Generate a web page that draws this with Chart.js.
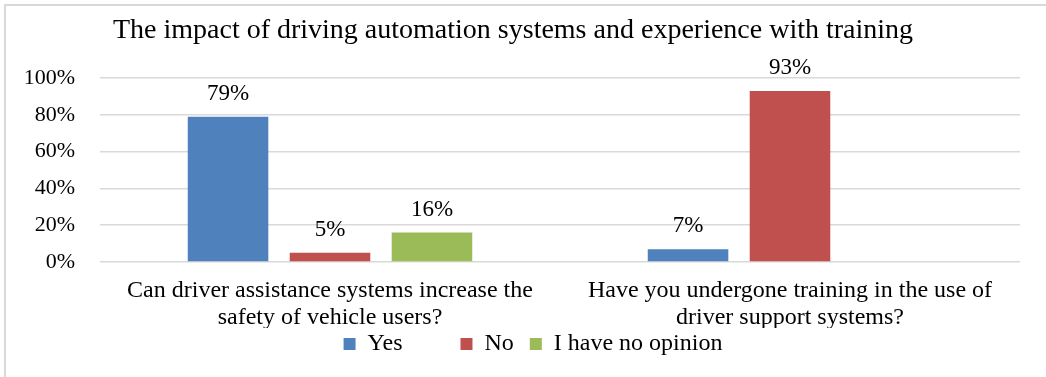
<!DOCTYPE html>
<html>
<head>
<meta charset="utf-8">
<script src="https://cdn.jsdelivr.net/npm/chart.js@4.4.0/dist/chart.umd.min.js"></script>
<style>
html,body{margin:0;padding:0;background:#fff;}
#wrap{position:relative;width:1046px;height:377px;}
</style>
</head>
<body>
<div id="wrap"><canvas id="c" width="1046" height="377"></canvas></div>
<script>
const categories = [
  ["Can driver assistance systems increase the", "safety of vehicle users?"],
  ["Have you undergone training in the use of", "driver support systems?"]
];
const seriesNames = ["Yes", "No", "I have no opinion"];
const yesValues = [79, 7];
const noValues = [5, 93];
const noOpinionValues = [16, null];
const yTicks = [0, 20, 40, 60, 80, 100];
const colors = ["#4F81BD", "#C0504D", "#9BBB59"];
// trailing space counts to mimic the spacing of the reference legend columns
const legendTrail = [9, 2, 9];

const FONT = "'Liberation Serif', 'Times New Roman', serif";

const borderPlugin = {
  id: 'outerBorder',
  beforeDraw(chart) {
    const ctx = chart.ctx;
    ctx.save();
    ctx.strokeStyle = '#d9d9d9';
    ctx.lineWidth = 2;
    ctx.strokeRect(5, 5, 1200, 500);
    ctx.restore();
  }
};

const labelPlugin = {
  id: 'valueLabels',
  afterDatasetsDraw(chart) {
    const ctx = chart.ctx;
    ctx.save();
    ctx.font = "23px " + FONT;
    ctx.fillStyle = '#000';
    ctx.textAlign = 'center';
    ctx.textBaseline = 'middle';
    chart.data.datasets.forEach((ds, di) => {
      const meta = chart.getDatasetMeta(di);
      meta.data.forEach((bar, i) => {
        const v = ds.data[i];
        if (v === null || v === undefined) return;
        ctx.fillText(v + '%', bar.x, bar.y - 23);
      });
    });
    ctx.restore();
  }
};

new Chart(document.getElementById('c'), {
  type: 'bar',
  data: {
    labels: categories,
    datasets: [
      { label: seriesNames[0], data: yesValues, backgroundColor: colors[0] },
      { label: seriesNames[1], data: noValues, backgroundColor: colors[1] },
      { label: seriesNames[2], data: noOpinionValues, backgroundColor: colors[2] }
    ]
  },
  options: {
    responsive: false,
    animation: false,
    devicePixelRatio: 1,
    layout: { padding: { left: 6, right: 26, top: 10, bottom: 11 } },
    datasets: { bar: { categoryPercentage: 0.665, barPercentage: 0.79 } },
    plugins: {
      title: {
        display: true,
        text: "The impact of driving automation systems and experience with training",
        color: '#000',
        font: { family: FONT, size: 28, weight: 'normal' },
        padding: { top: 4, bottom: 30.5 }
      },
      legend: {
        position: 'bottom',
        fullSize: false,
        labels: {
          color: '#000',
          font: { family: FONT, size: 24 },
          boxWidth: 12, boxHeight: 12,
          padding: 4,
          generateLabels(chart) {
            const items = Chart.defaults.plugins.legend.labels.generateLabels(chart);
            items.forEach((it, i) => { it.text = it.text + ' '.repeat(legendTrail[i]); it.lineWidth = 0; });
            return items;
          }
        }
      },
      tooltip: { enabled: false }
    },
    scales: {
      x: {
        afterFit(scale) { scale.height = 66; },
        grid: { display: false, drawTicks: false },
        border: { display: false },
        ticks: { color: '#000', font: { family: FONT, size: 24, lineHeight: 1.1 }, padding: 16, maxRotation: 0 }
      },
      y: {
        min: 0, max: 100,
        afterBuildTicks(scale) { scale.ticks = yTicks.map(v => ({ value: v })); },
        afterFit(scale) { scale.width = 94; },
        grid: { color: '#d9d9d9', lineWidth: 1.5, drawTicks: false },
        border: { display: false },
        ticks: { color: '#000', font: { family: FONT, size: 22 }, padding: 25, callback: v => v + '%' }
      }
    }
  },
  plugins: [borderPlugin, labelPlugin]
});
</script>
</body>
</html>
